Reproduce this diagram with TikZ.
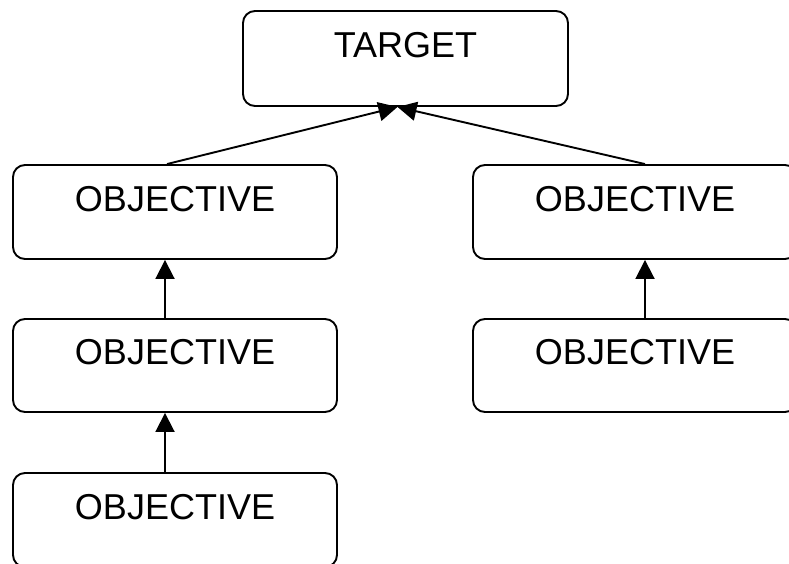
\documentclass[tikz,border=0pt]{standalone}
\usepackage{fontspec}
\setmainfont{Liberation Sans}
\usetikzlibrary{arrows.meta}
\begin{document}
\begin{tikzpicture}[x=1pt,y=-1pt,
  box/.style={draw,line width=1.9pt,rounded corners=12pt,
    minimum width=324pt,minimum height=94pt,inner sep=0pt,
    font=\fontsize{36}{40}\selectfont,text height=26pt,text depth=28pt},
  conn/.style={line width=1.9pt,-{Triangle[width=19pt,length=19pt]}}]
\useasboundingbox (0,0) rectangle (789,563);
\node[box,minimum width=325pt,minimum height=95pt] (target) at (405.5,58.5) {TARGET};
\node[box] (l1) at (175,212) {OBJECTIVE};
\node[box] (r1) at (635,212) {OBJECTIVE};
\node[box,minimum height=93pt] (l2) at (175,365.5) {OBJECTIVE};
\node[box,minimum height=93pt] (r2) at (635,365.5) {OBJECTIVE};
\node[box] (l3) at (175,520) {OBJECTIVE};
\draw[conn] ([xshift=-8pt]l1.north) -- ([xshift=-8pt]target.south);
\draw[conn] ([xshift=10pt]r1.north) -- ([xshift=-8pt]target.south);
\draw[conn] ([xshift=-10pt]l2.north) -- ([xshift=-10pt]l1.south);
\draw[conn] ([xshift=10pt]r2.north) -- ([xshift=10pt]r1.south);
\draw[conn] ([xshift=-10pt]l3.north) -- ([xshift=-10pt]l2.south);
\end{tikzpicture}
\end{document}
